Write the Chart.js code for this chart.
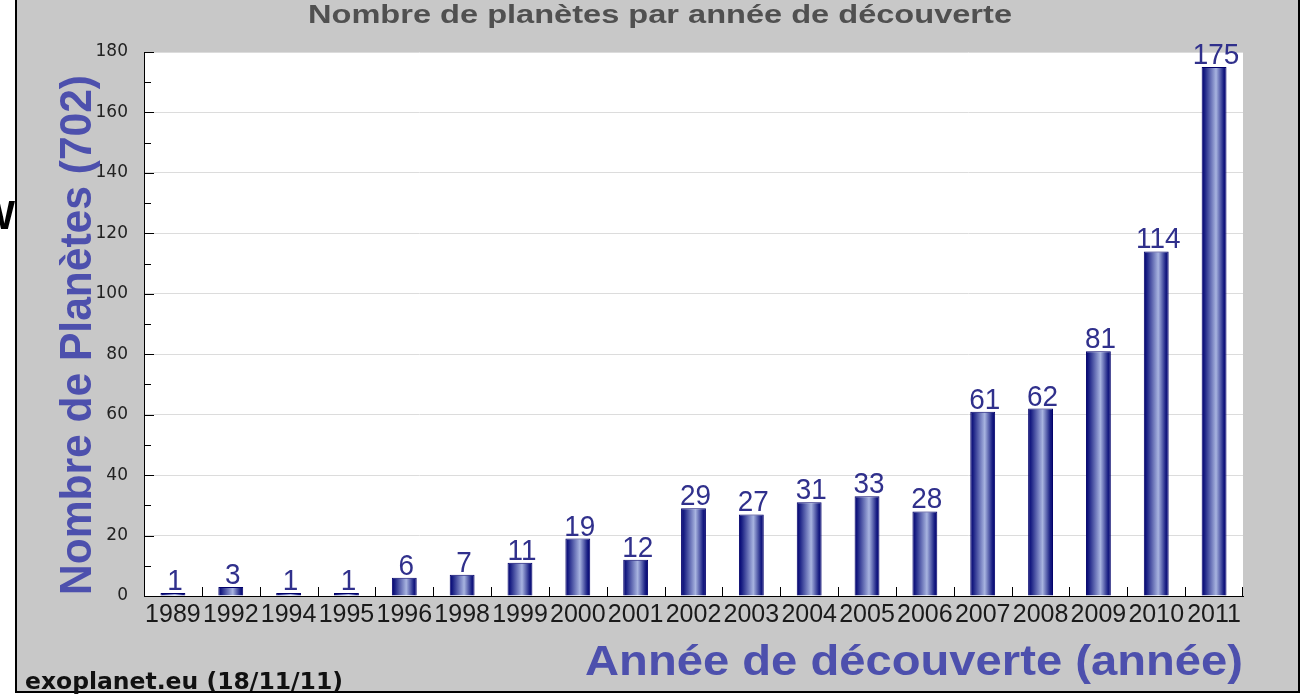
<!DOCTYPE html>
<html><head><meta charset="utf-8">
<script src="https://cdn.jsdelivr.net/npm/chart.js@4/dist/chart.umd.min.js"></script>
<style>
html,body{margin:0;padding:0;background:#fff;overflow:hidden}
#wrap{position:absolute;left:0;top:0;width:1306px;height:694px}
canvas{display:block}
</style></head>
<body><div id="wrap"><canvas id="c" width="1306" height="694"></canvas></div>
<script>
// ---- data ----
const years = ["1989","1992","1994","1995","1996","1998","1999","2000","2001","2002","2003","2004","2005","2006","2007","2008","2009","2010","2011"];
const planetCounts = [1,3,1,1,6,7,11,19,12,29,27,31,33,28,61,62,81,114,175];
const yMax = 180;
const yMinorStep = 10;
const yLabelStep = 20;
const chartTitle = "Nombre de planètes par année de découverte";
const yTitle = "Nombre de Planètes (702)";
const xTitle = "Année de découverte (année)";
const footerText = "exoplanet.eu (18/11/11)";
const edgeGlyph = "W";

// ---- styles ----
const GREY = "#c8c8c8";
const TITLE_BLUE = "#4d50ad";
const VALUE_BLUE = "#30308c";
const BAR_PCT = 0.43;

function fitText(ctx, text, font, color, x, y, width, rot) {
  ctx.save();
  ctx.font = font;
  ctx.fillStyle = color;
  ctx.textAlign = "left";
  ctx.textBaseline = "alphabetic";
  const w = ctx.measureText(text).width;
  ctx.translate(x, y);
  if (rot) ctx.rotate(rot);
  ctx.scale(width / w, 1);
  ctx.fillText(text, 0, 0);
  ctx.restore();
}

const framePlugin = {
  id: "frame",
  beforeDraw(chart) {
    const ctx = chart.ctx, a = chart.chartArea;
    ctx.save();
    ctx.fillStyle = "#ffffff";
    ctx.fillRect(0, 0, chart.width, chart.height);
    ctx.fillStyle = GREY;
    ctx.fillRect(17, 0, 1281, 691);
    ctx.fillStyle = "#000";
    ctx.fillRect(15, 0, 2, 693);
    ctx.fillRect(1298, 0, 2, 693);
    ctx.fillRect(15, 691, 1285, 2);
    ctx.fillStyle = "#ffffff";
    ctx.fillRect(a.left, a.top, a.right - a.left, a.bottom - a.top);
    // clipped glyph at the far left
    ctx.beginPath();
    ctx.rect(0, 0, 15, chart.height);
    ctx.clip();
    ctx.fillStyle = "#000";
    ctx.font = 'bold 40px "Liberation Sans"';
    ctx.textAlign = "right";
    ctx.textBaseline = "alphabetic";
    ctx.fillText(edgeGlyph, 15, 229);
    ctx.restore();
  },
  afterDatasetsDraw(chart) {
    const ctx = chart.ctx;
    const meta = chart.getDatasetMeta(0);
    ctx.save();
    ctx.font = '30px "Liberation Sans"';
    ctx.fillStyle = VALUE_BLUE;
    ctx.textAlign = "center";
    ctx.textBaseline = "alphabetic";
    meta.data.forEach((el, i) => {
      ctx.save();
      ctx.translate(el.x + 2, el.y - 3);
      ctx.scale(0.93, 1);
      ctx.fillText(String(planetCounts[i]), 0, 0);
      ctx.restore();
    });
    ctx.restore();
  },
  afterDraw(chart) {
    const ctx = chart.ctx, a = chart.chartArea;
    const ys = chart.scales.y, xs = chart.scales.x;
    ctx.save();
    ctx.strokeStyle = "#000";
    ctx.lineWidth = 1;
    ctx.beginPath();
    for (let v = 0; v <= yMax; v += yMinorStep) {
      const py = Math.round(ys.getPixelForValue(v)) + 0.5;
      const len = (v % yLabelStep === 0) ? 10 : 7;
      ctx.moveTo(a.left, py);
      ctx.lineTo(a.left + len, py);
    }
    for (let i = 1; i <= years.length; i++) {
      const px = i < years.length
        ? Math.round((xs.getPixelForValue(i - 1) + xs.getPixelForValue(i)) / 2) + 0.5
        : Math.round(a.right) - 0.5;
      ctx.moveTo(px, a.bottom);
      ctx.lineTo(px, a.bottom - 9);
    }
    ctx.stroke();
    ctx.restore();

    fitText(ctx, chartTitle, 'bold 25px "Liberation Sans"', "#505050", 308, 23, 704, 0);
    fitText(ctx, yTitle, 'bold 45px "Liberation Sans"', TITLE_BLUE, 91, 595, 520, -Math.PI / 2);
    fitText(ctx, xTitle, 'bold 42px "Liberation Sans"', TITLE_BLUE, 585, 675, 658, 0);
    fitText(ctx, footerText, 'bold 23px "DejaVu Sans"', "#111", 25, 689, 318, 0);
  }
};

function barGradient(c) {
  const ch = c.chart, xs = ch.scales && ch.scales.x;
  if (!xs || c.type !== "data" || !xs.width) return "#22228a";
  const cx = xs.getPixelForValue(c.dataIndex);
  const w = xs.width / years.length * BAR_PCT;
  const g = ch.ctx.createLinearGradient(cx - w / 2, 0, cx + w / 2, 0);
  g.addColorStop(0, "#000070");
  g.addColorStop(0.12, "#1a2084");
  g.addColorStop(0.58, "#a8b4e0");
  g.addColorStop(0.88, "#1a2084");
  g.addColorStop(1, "#000070");
  return g;
}

new Chart(document.getElementById("c"), {
  type: "bar",
  data: {
    labels: years,
    datasets: [{
      data: planetCounts,
      backgroundColor: barGradient,
      borderColor: "#00006a",
      borderWidth: 1,
      barPercentage: BAR_PCT,
      categoryPercentage: 1
    }]
  },
  options: {
    responsive: false,
    animation: false,
    devicePixelRatio: 1,
    layout: { padding: { left: 0, top: 52, right: 63, bottom: 0 } },
    plugins: { legend: { display: false }, tooltip: { enabled: false }, title: { display: false } },
    scales: {
      x: {
        offset: true,
        grid: { display: true, color: "rgba(0,0,0,0)", drawTicks: false },
        border: { display: true, color: "#000", width: 1 },
        ticks: {
          autoSkip: false, maxRotation: 0, minRotation: 0, padding: 4,
          color: "#1a1a1a", font: { family: "Liberation Sans", size: 25 }
        },
        afterFit(s) { s.height = 98; }
      },
      y: {
        min: 0, max: yMax,
        grid: {
          drawTicks: false,
          color: (c) => (c.tick && c.tick.value > 0 && c.tick.value % yLabelStep === 0) ? "#dcdcdc" : "rgba(0,0,0,0)"
        },
        border: { display: true, color: "#000", width: 1 },
        ticks: {
          stepSize: yMinorStep, padding: 16,
          color: "#222", font: { family: "DejaVu Sans", size: 17 },
          callback: (v) => (v % yLabelStep === 0 ? String(v) : "")
        },
        afterFit(s) { s.width = 144; }
      }
    }
  },
  plugins: [framePlugin]
});
</script>
</body></html>
